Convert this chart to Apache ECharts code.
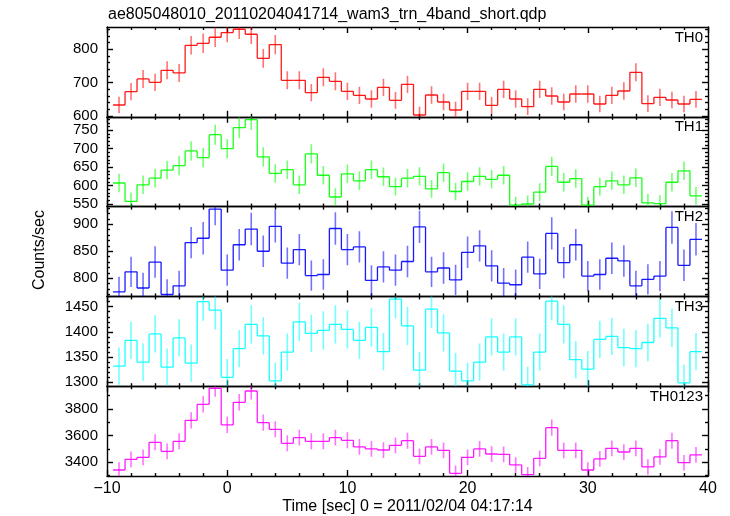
<!DOCTYPE html>
<html><head><meta charset="utf-8">
<script src="https://cdn.jsdelivr.net/npm/echarts@6/dist/echarts.min.js"></script>
<style>html,body{margin:0;padding:0;background:#fff}#c{width:730px;height:516px}</style>
</head><body><div id="c"></div>
<script>
// ---- data (bin centres in seconds, 1 s bins) ----
const bins = [-9,-8,-7,-6,-5,-4,-3,-2,-1,0,1,2,3,4,5,6,7,8,9,10,11,12,13,14,15,16,17,18,19,20,21,22,23,24,25,26,27,28,29,30,31,32,33,34,35,36,37,38,39];

const th0 = [633,673,711,701,737,729,812,818,836,850,860,845,773,814,707,707,670,716,704,674,662,651,686,647,695,
             603,663,642,618,674,674,632,680,651,628,680,660,642,666,666,636,662,675,731,637,656,648,636,650];
const th0Err = [25,26,27,26,27,27,28,29,29,29,29,29,28,29,27,27,26,27,27,26,26,26,26,25,26,25,26,25,25,26,26,25,26,26,25,26,26,25,26,26,25,26,26,27,25,26,25,25,25];

const th1 = [607,557,602,620,642,654,694,676,738,700,757,779,678,633,643,602,686,628,569,632,613,643,624,597,620,
             625,591,635,584,611,625,617,628,547,550,582,652,609,619,547,597,613,602,621,553,551,609,640,572];
const th1Err = [25,24,25,25,25,26,26,26,27,26,28,28,26,25,25,25,26,25,24,25,25,25,25,24,25,25,24,25,24,25,25,25,25,23,23,24,26,25,25,23,24,25,25,25,24,23,25,25,24];

const th2 = [775,812,782,830,770,786,866,874,928,815,862,891,850,896,828,853,805,807,892,853,858,796,821,815,831,
             895,812,819,797,848,860,823,791,788,839,808,883,829,862,804,807,837,832,786,798,804,894,824,872];
const th2Err = [28,28,28,29,28,28,29,30,30,29,29,30,29,30,29,29,28,28,30,29,29,28,29,29,29,30,28,29,28,29,29,29,28,28,29,28,30,29,29,28,28,29,29,28,28,28,30,29,30];

const th3 = [1332,1383,1340,1396,1330,1388,1338,1460,1443,1310,1367,1415,1392,1303,1360,1420,1397,1403,1415,1405,1383,1409,1361,1465,1412,
             1324,1445,1398,1322,1303,1340,1390,1360,1390,1295,1360,1461,1415,1345,1326,1385,1391,1369,1367,1379,1427,1408,1299,1361];
const th3Err = [37,37,37,37,37,37,37,38,38,36,37,38,37,36,37,38,37,38,38,38,37,38,37,38,38,36,38,37,36,36,37,37,37,37,36,37,38,38,37,36,37,37,37,37,37,38,38,36,37];

const th0123 = [3342,3422,3437,3550,3482,3557,3715,3835,3955,3680,3850,3935,3697,3647,3542,3585,3557,3557,3585,3565,3515,3500,3492,3527,3562,
                3445,3515,3490,3317,3437,3500,3462,3460,3380,3307,3430,3660,3490,3490,3342,3425,3505,3477,3505,3365,3440,3562,3397,3455];
const th0123Err = [58,59,59,60,59,60,61,62,63,61,62,63,61,60,60,60,60,60,60,60,59,59,59,59,60,59,59,59,58,59,59,59,59,58,58,59,61,59,59,58,59,59,59,59,58,59,60,58,59];

const panelNames = ['TH0','TH1','TH2','TH3','TH0123'];
const xRange = [-10, 40];
const xTickLabels = [-10, 0, 10, 20, 30, 40];
const yRanges = [[597.6, 866.8], [543, 786.5], [766.5, 932.5], [1292.3, 1470.4], [3297, 3971]];
const yTickLabels = [[600,700,800],[550,600,650,700,750],[800,850,900],[1300,1350,1400,1450],[3400,3600,3800]];
const yMinorStep = [20, 10, 10, 10, 100];
const xMinorStep = 2;

const titleText = 'ae805048010_20110204041714_wam3_trn_4band_short.qdp';
const xTitle = 'Time [sec] 0 = 2011/02/04 04:17:14';
const yTitle = 'Counts/sec';

// ---- styling / layout ----
const colors = ['#ff0000','#00ff00','#0000ff','#00ffff','#ff00ff'];
const seriesVals = [th0, th1, th2, th3, th0123];
const seriesErrs = [th0Err, th1Err, th2Err, th3Err, th0123Err];
const FONT = '"Liberation Sans", Arial, Helvetica, sans-serif';
const G_TOP = 27, G_H = 89.8, G_LEFT = 107, G_RIGHT = 22;
const frame = {color:'#000', width:1.4};

function minorValues(lo, hi, step, exclude) {
  const out = [];
  const start = Math.ceil(lo / step) * step;
  for (let v = start; v <= hi + 1e-9; v += step) {
    if (!exclude.some(e => Math.abs(e - v) < 1e-9)) out.push(v);
  }
  return out;
}

const grids = [], xAxes = [], yAxes = [], series = [], graphics = [];
const xMinor = minorValues(xRange[0], xRange[1], xMinorStep, xTickLabels);

panelNames.forEach((name, i) => {
  const top = G_TOP + i * G_H;
  grids.push({left: G_LEFT, right: G_RIGHT, top: top, height: G_H});
  const last = i === panelNames.length - 1;
  const base = xAxes.length;
  ['bottom','top'].forEach(pos => {
    xAxes.push({gridIndex:i, type:'value', min:xRange[0], max:xRange[1], position:pos,
      axisLine:{show:true, onZero:false, lineStyle:frame},
      axisTick:{show:true, inside:true, length:6, customValues:xTickLabels, lineStyle:frame},
      axisLabel:{show: last && pos === 'bottom', customValues:xTickLabels, margin:5,
        fontSize:16, color:'#000', fontFamily:FONT,
        formatter: v => String(v).replace('-', '\u2212')},
      splitLine:{show:false}});
    xAxes.push({gridIndex:i, type:'value', min:xRange[0], max:xRange[1], position:pos,
      axisLine:{show:false, onZero:false},
      axisTick:{show:true, inside:true, length:3, customValues:xMinor, lineStyle:frame},
      axisLabel:{show:false}, splitLine:{show:false}});
  });
  const ybase = yAxes.length;
  const yr = yRanges[i];
  const yMinor = minorValues(yr[0], yr[1], yMinorStep[i], yTickLabels[i]);
  ['left','right'].forEach(pos => {
    yAxes.push({gridIndex:i, type:'value', min:yr[0], max:yr[1], position:pos,
      axisLine:{show:true, onZero:false, lineStyle:frame},
      axisTick:{show:true, inside:true, length:6, customValues:yTickLabels[i], lineStyle:frame},
      axisLabel:{show: pos === 'left', customValues:yTickLabels[i], margin:9,
        fontSize:15, color:'#000', fontFamily:FONT, formatter: v => String(v)},
      splitLine:{show:false}});
    yAxes.push({gridIndex:i, type:'value', min:yr[0], max:yr[1], position:pos,
      axisLine:{show:false, onZero:false},
      axisTick:{show:true, inside:true, length:3, customValues:yMinor, lineStyle:frame},
      axisLabel:{show:false}, splitLine:{show:false}});
  });

  const vals = seriesVals[i], errs = seriesErrs[i], col = colors[i];
  const data = bins.map((x, k) => [x, vals[k], errs[k], k + 1 < vals.length ? vals[k + 1] : vals[k]]);
  series.push({
    type:'custom', xAxisIndex: base, yAxisIndex: ybase, clip: true, silent: true,
    data: data,
    renderItem: function (params, api) {
      const x = api.value(0), v = api.value(1), e = api.value(2), vn = api.value(3);
      const pL = api.coord([x - 0.5, v]), pR = api.coord([x + 0.5, v]);
      const pLo = api.coord([x, v - e]), pHi = api.coord([x, v + e]);
      const pN = api.coord([x + 0.5, vn]);
      return {type:'group', children:[
        {type:'line', shape:{x1:pLo[0], y1:pLo[1], x2:pHi[0], y2:pHi[1]},
          style:{stroke:col, lineWidth:1.6, opacity:0.55}},
        {type:'line', shape:{x1:pL[0], y1:pL[1], x2:pR[0], y2:pR[1]},
          style:{stroke:col, lineWidth:1.3, opacity:0.9}},
        {type:'line', shape:{x1:pR[0], y1:pR[1], x2:pN[0], y2:pN[1]},
          style:{stroke:col, lineWidth:1.3, opacity:0.9}}
      ]};
    }
  });

  graphics.push({type:'text', x: 730 - G_RIGHT - 5, y: top + 10.5,
    style:{text:name, fontSize:15, fontFamily:FONT, fill:'#000', align:'right', verticalAlign:'middle'}});
});

graphics.push({type:'text', x: G_LEFT + 1, y: 15,
  style:{text:titleText, fontSize:16, fontFamily:FONT, fill:'#000', align:'left', verticalAlign:'middle'}});
graphics.push({type:'text', x: G_LEFT + (730 - G_LEFT - G_RIGHT) / 2, y: 507,
  style:{text:xTitle, fontSize:16, fontFamily:FONT, fill:'#000', align:'center', verticalAlign:'middle'}});
graphics.push({type:'text', x: 40, y: 250, rotation: Math.PI / 2,
  style:{text:yTitle, fontSize:16, fontFamily:FONT, fill:'#000', align:'center', verticalAlign:'middle'}});

const chart = echarts.init(document.getElementById('c'), null, {renderer:'canvas'});
chart.setOption({animation:false, backgroundColor:'#fff', textStyle:{fontFamily:FONT},
  grid:grids, xAxis:xAxes, yAxis:yAxes, series:series, graphic:graphics});
</script></body></html>
